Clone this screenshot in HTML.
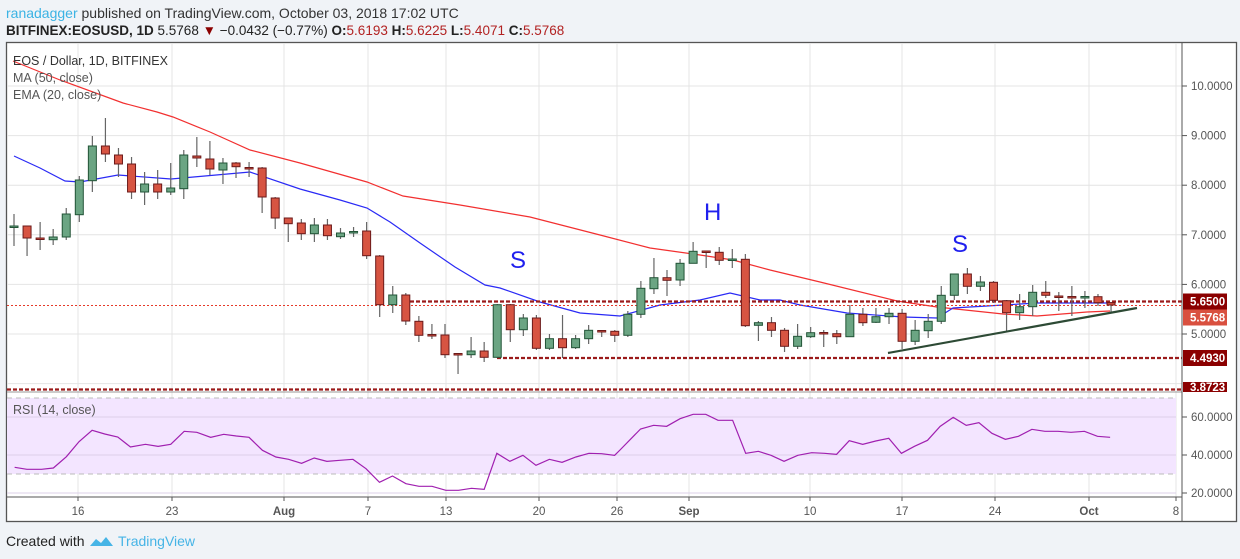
<!DOCTYPE html>
<html><head><meta charset="utf-8">
<style>
html,body{margin:0;padding:0;background:#f0f3f7;width:1240px;height:559px;overflow:hidden;font-family:"Liberation Sans",sans-serif;}
svg{position:absolute;left:0;top:0;}
</style></head><body>
<svg id="s" width="1240" height="559" xmlns="http://www.w3.org/2000/svg" font-family="Liberation Sans, sans-serif">
<rect x="0" y="0" width="1240" height="559" fill="#f0f3f7"/>
<text x="6" y="18" font-size="14" fill="#333"><tspan fill="#3bb3e4">ranadagger</tspan> published on TradingView.com, October 03, 2018 17:02 UTC</text>
<text x="6" y="35" font-size="13.5" fill="#222"><tspan font-weight="bold">BITFINEX:EOSUSD, 1D</tspan> 5.5768 <tspan fill="#8b0000">▼</tspan> −0.0432 (−0.77%) <tspan font-weight="bold">O:</tspan><tspan fill="#b22222">5.6193</tspan> <tspan font-weight="bold">H:</tspan><tspan fill="#b22222">5.6225</tspan> <tspan font-weight="bold">L:</tspan><tspan fill="#b22222">5.4071</tspan> <tspan font-weight="bold">C:</tspan><tspan fill="#b22222">5.5768</tspan></text>
<rect x="6.5" y="42.5" width="1230" height="479" fill="#fff" stroke="#555" stroke-width="1.3"/>
<g id="g"></g>
</svg>
<script>
var g=document.getElementById('g');var h='';
function X(i){return 14+13.06*i;}
// grid
var vx=[78,172,284,368,446,539,617,689,810,902,995,1089,1176];
vx.forEach(function(x){h+='<line x1="'+x+'" y1="43" x2="'+x+'" y2="497" stroke="#e4e4e4"/>';});
for(var p=4;p<=10;p++){var y=86+(10-p)*49.6;h+='<line x1="7" y1="'+y+'" x2="1182" y2="'+y+'" stroke="#e4e4e4"/>';}
// RSI band
h+='<rect x="7" y="398" width="1169" height="76" fill="#f3e5ff"/>';
[417,455,493].forEach(function(y){h+='<line x1="7" y1="'+y+'" x2="1176" y2="'+y+'" stroke="#ddd0ea"/>';});
h+='<line x1="7" y1="398" x2="1176" y2="398" stroke="#bbb" stroke-dasharray="5,4"/>';
h+='<line x1="7" y1="474" x2="1176" y2="474" stroke="#bbb" stroke-dasharray="5,4"/>';
// lines
function pl(pts,c,w){var s=pts.map(function(p){return p.join(',')}).join(' ');h+='<polyline points="'+s+'" fill="none" stroke="'+c+'" stroke-width="'+w+'"/>';}
pl([[13,61],[60,80],[123,103],[157,112],[173,117],[210,132],[250,150],[300,163],[367,182],[403,196],[460,205],[530,217],[600,235],[650,248],[700,255],[733,260],[770,270],[820,282],[897,301],[937,307],[1003,314],[1037,316],[1087,312],[1110,311]],'#f23030',1.2);
pl([[14,156],[40,168],[65,181],[80,182],[118,175],[171,179],[250,172],[300,189],[340,200],[367,208],[390,222],[400,229],[420,243],[455,267],[485,285],[500,288],[540,302],[580,313],[620,316],[660,305],[700,300],[730,293],[760,300],[780,300],[800,305],[847,313],[903,317],[937,318],[953,308],[987,306],[1037,303],[1113,303]],'#2a2af5',1.2);
// horizontal levels
h+='<line x1="7" y1="305.5" x2="1182" y2="305.5" stroke="#e53a2a" stroke-dasharray="2,2"/>';
function lvl(x1,y){h+='<line x1="'+x1+'" y1="'+y+'" x2="1182" y2="'+y+'" stroke="#9b1b1b" stroke-width="2.2" stroke-dasharray="4,2"/>';}
lvl(410,301.5);lvl(497,358);lvl(7,389.5);
// candles
var d=[[226,227.5,214,246,1],[226,238,226,256,0],[238,239.5,222,250,0],[237,239.7,229,245,1],[214,237,208,240,1],[180,214.7,176,222,1],[146,180.7,136,192,1],[146,154,118,162,0],[155,164,148,177,0],[164,192,157,199,0],[184,192,172,205,1],[184,192,170,199,0],[188,192,163,195,1],[155,188.7,150,199,1],[156,158,137,167,0],[159,169,141,175,0],[163,170,158,184,1],[163,166.7,162,178,0],[167.5,169,162,177,0],[168,197,167,213,0],[198,218,197,229,0],[218,223.7,218,242,0],[223,233.7,219,240,0],[225,233.7,218,242,1],[225,235.7,219,240,0],[233,236.7,228,239,1],[231.5,233,227,237,1],[231,255.7,222,259,0],[256,304.7,255,317,0],[295,304.7,286,313,1],[295,321,293,325,0],[321.3,335.3,316,342,0],[334.5,336,324,339,0],[335,354.7,324,358,0],[353.5,355,353,374,0],[351,354.7,337,358,1],[351,357.3,342,362,0],[304.7,357.3,304,358,1],[304.7,329.7,304,342,0],[318,329.7,314,336,1],[318,348.3,315,350,0],[338.7,348.3,334,350,1],[338.7,347.7,315,358,0],[338.7,347.7,335,349,1],[330.3,338.7,325,344,1],[330.5,332,330,337,0],[331.3,335.3,330,342,0],[314.3,335.3,311,337,1],[288.3,314.3,281,318,1],[277.7,288.7,258,294,1],[277.7,280.3,270,296,0],[263.3,280,259,286,1],[251.3,263.3,242,263,1],[251,252.5,251,268,0],[252.3,260.3,247,265,0],[259,260.5,249,268,1],[259.3,325.7,254,327,0],[322.7,325.3,321,341,1],[322.7,330.3,317,337,0],[330.3,346.3,328,352,0],[336.3,346.3,324,349,1],[332.7,336.7,327,338,1],[332.5,334,330,347,0],[333.7,336.7,330,344,0],[314.3,336.7,305,336,1],[314.3,322.7,308,326,0],[316.7,322.3,308,323,1],[313.3,316.7,308,324,1],[313.3,341.3,309,349,0],[330.3,341.3,320,345,1],[321.3,330.7,314,338,1],[295.3,321.3,286,324,1],[274,295.3,274,300,1],[274,286.3,268,294,0],[282,286.3,276,291,1],[282.3,300.3,281,303,0],[300.7,312.7,300,331,0],[306.7,312.7,294,320,1],[292.3,306.7,285,316,1],[292.3,295.3,281,298,0],[296,297.5,292,311,0],[296.5,298,286,316,0],[296.5,298,291,308,1],[296.7,302.7,294,306,0],[302.7,305,302,313,0]];
d.forEach(function(c,i){var x=X(i);
h+='<line x1="'+x+'" y1="'+c[2]+'" x2="'+x+'" y2="'+c[3]+'" stroke="#666" stroke-width="1.2"/>';
var f=c[4]?'#6ba583':'#d75442',s=c[4]?'#225437':'#6b1a1a';var hh=Math.max(c[1]-c[0],1.5);
h+='<rect x="'+(x-4)+'" y="'+c[0]+'" width="8" height="'+hh+'" fill="'+f+'" stroke="'+s+'" stroke-width="1"/>';});
// trend line
h+='<line x1="888" y1="353" x2="1137" y2="308" stroke="#2d4a35" stroke-width="2.2"/>';
// S H S
h+='<text x="510" y="268" font-size="24" fill="#2020ee">S</text><text x="704" y="220" font-size="24" fill="#2020ee">H</text><text x="952" y="252" font-size="24" fill="#2020ee">S</text>';
// legend
h+='<text x="13" y="65" font-size="12.5" fill="#333">EOS / Dollar, 1D, BITFINEX</text><text x="13" y="82" font-size="12.5" fill="#555">MA (50, close)</text><text x="13" y="99" font-size="12.5" fill="#555">EMA (20, close)</text>';
h+='<text x="13" y="414" font-size="12.5" fill="#555">RSI (14, close)</text>';
// RSI
var r6=[[37,247],[68,253],[105,253],[135,249],[168,215],[200,170],[233,136],[265,147],[298,156],[330,186],[368,178],[400,184],[432,178],[466,139],[498,142],[533,157],[566,148],[598,153],[630,157],[664,196],[698,216],[730,223],[763,235],[795,219],[827,229],[860,226],[893,223],[926,251],[960,292],[993,273],[1027,296],[1060,304],[1093,304],[1128,316],[1160,316],[1193,310],[1225,313],[1257,205],[1290,229],[1323,211],[1356,241],[1390,223],[1422,232],[1457,216],[1490,205],[1522,206],[1555,211]];
var r7=[[0,195],[52,132],[85,121],[118,124],[152,101],[185,88],[217,88],[248,106],[285,106],[318,205],[350,199],[382,211],[415,229],[450,211],[485,203],[517,205],[548,208],[580,167],[614,178],[647,168],[680,160],[712,205],[745,184],[778,166],[810,124],[843,97],[876,121],[908,113],[941,145],[975,163],[1008,154],[1042,133],[1075,139],[1108,139],[1141,142],[1175,139],[1208,154],[1240,157]];
var rp=r6.map(function(p){return [p[0]/2.53,385+p[1]/3]}).concat(r7.map(function(p){return [620+p[0]/2.53,385+p[1]/3]}));
pl(rp,'#a020b0',1.2);
// panes separators & axes
h+='<line x1="7" y1="392" x2="1182" y2="392" stroke="#999"/>';
h+='<line x1="7" y1="497" x2="1182" y2="497" stroke="#555"/>';
h+='<line x1="1182" y1="43" x2="1182" y2="522" stroke="#555"/>';
// price labels
for(var p=5;p<=10;p++){var y=86+(10-p)*49.6;h+='<line x1="1182" y1="'+y+'" x2="1187" y2="'+y+'" stroke="#555"/><text x="1191" y="'+(y+4)+'" font-size="11.5" fill="#555">'+p+'.0000</text>';}
function lab(y,t,c){h+='<rect x="1183" y="'+(y-8)+'" width="44" height="16" fill="'+c+'"/><text x="1190" y="'+(y+4)+'" font-size="11.5" font-weight="bold" fill="#fff">'+t+'</text>';}
lab(301.5,'5.6500','#8b0000');lab(317.5,'5.5768','#d9503f');lab(358,'4.4930','#8b0000');
h+='<rect x="1183" y="382" width="44" height="10" fill="#8b0000"/><text x="1190" y="391" font-size="11.5" font-weight="bold" fill="#fff">3.8723</text>';
[[60,417],[40,455],[20,493]].forEach(function(a){h+='<line x1="1182" y1="'+a[1]+'" x2="1187" y2="'+a[1]+'" stroke="#555"/><text x="1191" y="'+(a[1]+4)+'" font-size="11.5" fill="#555">'+a[0]+'.0000</text>';});
// time labels
var tl=['16','23','Aug','7','13','20','26','Sep','10','17','24','Oct','8'];
tl.forEach(function(t,i){var b=(t=='Aug'||t=='Sep'||t=='Oct');h+='<line x1="'+vx[i]+'" y1="497" x2="'+vx[i]+'" y2="501" stroke="#555"/><text x="'+vx[i]+'" y="515" font-size="11.5" text-anchor="middle" fill="#555"'+(b?' font-weight="bold"':'')+'>'+t+'</text>';});
// footer
h+='<text x="6" y="546" font-size="14" fill="#222">Created with</text>';
h+='<path d="M90 546 l6 -7 l5 4 l5 -6 l7 9 z" fill="#46b4e6"/><text x="118" y="546" font-size="14" fill="#46b4e6">TradingView</text>';
g.innerHTML=h;
</script>
</body></html>
